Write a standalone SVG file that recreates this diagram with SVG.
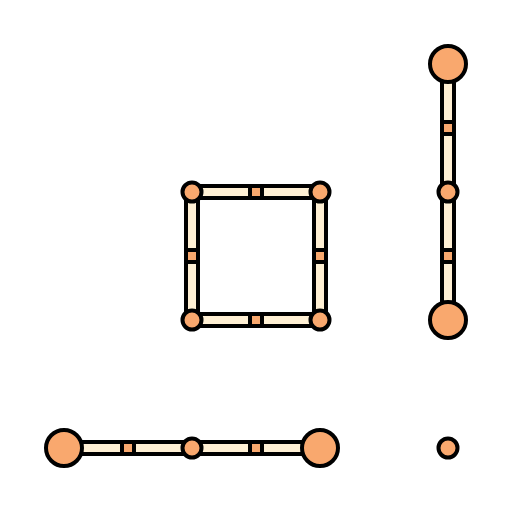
<svg xmlns="http://www.w3.org/2000/svg" width="512" height="512" viewBox="0 0 512 512">
<defs>
<style>
.bar{fill:#000}
.in{fill:#FFF0D4}
.mid{fill:#F9A86E}
.node{fill:#F9A86E;stroke:#000;stroke-width:4}
</style>
</defs>
<rect width="512" height="512" fill="#fff"/>
<g id="connectors" shape-rendering="crispEdges">
  <g><rect class="bar" x="192" y="184" width="128" height="16"/><rect class="in" x="192" y="188" width="56" height="8"/><rect class="in" x="264" y="188" width="56" height="8"/><rect class="mid" x="252" y="188" width="8" height="8"/></g>
  <g><rect class="bar" x="192" y="312" width="128" height="16"/><rect class="in" x="192" y="316" width="56" height="8"/><rect class="in" x="264" y="316" width="56" height="8"/><rect class="mid" x="252" y="316" width="8" height="8"/></g>
  <g><rect class="bar" x="184" y="192" width="16" height="128"/><rect class="in" x="188" y="192" width="8" height="56"/><rect class="in" x="188" y="264" width="8" height="56"/><rect class="mid" x="188" y="252" width="8" height="8"/></g>
  <g><rect class="bar" x="312" y="192" width="16" height="128"/><rect class="in" x="316" y="192" width="8" height="56"/><rect class="in" x="316" y="264" width="8" height="56"/><rect class="mid" x="316" y="252" width="8" height="8"/></g>
  <g><rect class="bar" x="440" y="64" width="16" height="128"/><rect class="in" x="444" y="64" width="8" height="56"/><rect class="in" x="444" y="136" width="8" height="56"/><rect class="mid" x="444" y="124" width="8" height="8"/></g>
  <g><rect class="bar" x="440" y="192" width="16" height="128"/><rect class="in" x="444" y="192" width="8" height="56"/><rect class="in" x="444" y="264" width="8" height="56"/><rect class="mid" x="444" y="252" width="8" height="8"/></g>
  <g><rect class="bar" x="64" y="440" width="128" height="16"/><rect class="in" x="64" y="444" width="56" height="8"/><rect class="in" x="136" y="444" width="56" height="8"/><rect class="mid" x="124" y="444" width="8" height="8"/></g>
  <g><rect class="bar" x="192" y="440" width="128" height="16"/><rect class="in" x="192" y="444" width="56" height="8"/><rect class="in" x="264" y="444" width="56" height="8"/><rect class="mid" x="252" y="444" width="8" height="8"/></g>
</g>
<g id="n1"><circle class="node" cx="192" cy="192" r="9.5"/></g>
<g id="n2"><circle class="node" cx="320" cy="192" r="9.5"/></g>
<g id="n3"><circle class="node" cx="192" cy="320" r="9.5"/></g>
<g id="n4"><circle class="node" cx="320" cy="320" r="9.5"/></g>
<g id="n5"><circle class="node" cx="448" cy="64" r="18"/></g>
<g id="n6"><circle class="node" cx="448" cy="192" r="9.5"/></g>
<g id="n7"><circle class="node" cx="448" cy="320" r="18"/></g>
<g id="n8"><circle class="node" cx="64" cy="448" r="18"/></g>
<g id="n9"><circle class="node" cx="192" cy="448" r="9.5"/></g>
<g id="n10"><circle class="node" cx="320" cy="448" r="18"/></g>
<g id="n11"><circle class="node" cx="448" cy="448" r="9.5"/></g>
</svg>
